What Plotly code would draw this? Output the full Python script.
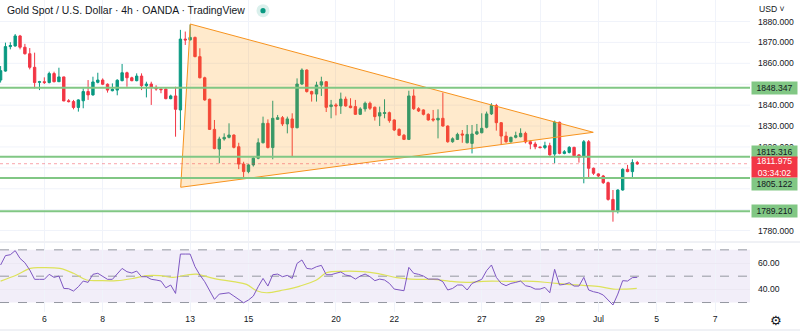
import plotly.graph_objects as go

# ---------------- data ----------------
opens = [1852.0, 1856.3, 1868.0, 1868.3, 1873.1, 1867.7, 1864.6, 1858.1, 1850.9, 1851.2,
         1850.8, 1855.1, 1851.2, 1853.5, 1842.1, 1841.7, 1838.9, 1842.1, 1846.5, 1844.9,
         1850.9, 1852.0, 1850.0, 1846.9, 1847.2, 1851.7, 1855.5, 1853.1, 1851.7, 1853.9,
         1849.3, 1850.1, 1848.5, 1847.7, 1847.7, 1843.1, 1844.4, 1837.7, 1871.6, 1871.2,
         1872.4, 1863.2, 1853.1, 1842.8, 1828.4, 1819.0, 1823.8, 1824.6, 1825.7, 1820.1,
         1811.8, 1808.2, 1811.4, 1814.6, 1822.0, 1831.3, 1819.7, 1833.2, 1834.0, 1831.0,
         1833.4, 1829.2, 1850.1, 1856.8, 1846.5, 1845.3, 1849.6, 1851.2, 1839.3, 1840.1,
         1839.6, 1842.9, 1839.6, 1839.3, 1835.6, 1838.2, 1840.9, 1839.0, 1834.8, 1836.0,
         1836.4, 1832.9, 1828.4, 1825.6, 1823.6, 1844.4, 1838.3, 1837.7, 1835.6, 1833.4,
         1832.9, 1833.7, 1830.0, 1822.5, 1823.6, 1826.2, 1822.0, 1821.7, 1826.2, 1826.8,
         1829.4, 1835.8, 1839.8, 1831.6, 1825.2, 1822.5, 1824.6, 1824.9, 1826.5, 1822.5,
         1821.4, 1820.0, 1819.7, 1820.6, 1816.6, 1831.8, 1816.9, 1817.4, 1819.8, 1816.2,
         1815.7, 1822.5, 1809.8, 1807.1, 1806.1, 1802.9, 1794.9, 1789.5, 1799.4, 1809.3,
         1808.2, 1812.5]
highs = [1858.7, 1869.9, 1870.1, 1874.0, 1873.6, 1869.3, 1867.3, 1865.1, 1851.6, 1853.3,
         1856.0, 1856.0, 1857.9, 1853.6, 1842.9, 1842.5, 1842.8, 1848.0, 1852.0, 1853.6,
         1855.5, 1852.8, 1850.4, 1850.4, 1852.4, 1859.7, 1856.0, 1853.6, 1855.2, 1855.2,
         1851.2, 1851.2, 1849.5, 1848.0, 1848.0, 1845.0, 1848.8, 1876.0, 1875.2, 1878.5,
         1872.8, 1867.2, 1853.6, 1843.1, 1832.9, 1824.9, 1826.5, 1831.3, 1826.0, 1822.0,
         1812.9, 1811.8, 1815.3, 1824.1, 1834.5, 1833.2, 1842.1, 1835.3, 1834.8, 1834.5,
         1836.1, 1852.8, 1857.6, 1857.1, 1846.9, 1851.2, 1853.6, 1851.5, 1842.5, 1840.9,
         1846.0, 1844.1, 1843.3, 1842.5, 1839.0, 1841.7, 1841.7, 1839.3, 1839.3, 1842.8,
         1836.9, 1833.2, 1828.9, 1826.2, 1846.9, 1847.6, 1839.0, 1838.0, 1836.1, 1837.7,
         1838.0, 1846.0, 1830.3, 1824.6, 1826.8, 1828.1, 1830.5, 1830.5, 1831.0, 1836.1,
         1836.9, 1840.9, 1840.6, 1831.9, 1827.3, 1824.9, 1827.3, 1828.9, 1827.3, 1823.3,
         1822.5, 1820.1, 1822.5, 1822.0, 1832.6, 1832.1, 1818.5, 1820.4, 1820.1, 1816.6,
         1823.3, 1823.3, 1810.1, 1807.4, 1806.6, 1803.4, 1799.4, 1799.7, 1809.8, 1811.4,
         1814.1, 1813.3]
lows = [1850.8, 1856.0, 1866.7, 1868.0, 1866.7, 1864.2, 1857.1, 1848.0, 1847.2, 1850.1,
        1850.4, 1850.9, 1851.1, 1841.9, 1841.3, 1838.0, 1836.9, 1838.5, 1842.5, 1844.5,
        1850.4, 1849.6, 1846.0, 1846.6, 1844.7, 1851.4, 1848.8, 1851.4, 1851.4, 1847.2,
        1843.7, 1840.1, 1846.9, 1845.7, 1842.8, 1842.8, 1824.9, 1828.1, 1868.8, 1871.0,
        1862.9, 1852.8, 1842.1, 1828.1, 1818.9, 1812.2, 1823.0, 1824.1, 1819.3, 1809.4,
        1805.0, 1807.4, 1810.6, 1814.1, 1821.7, 1819.3, 1814.1, 1832.9, 1830.0, 1826.5,
        1815.3, 1828.9, 1849.6, 1846.0, 1841.7, 1841.7, 1844.4, 1836.7, 1833.7, 1835.1,
        1835.8, 1839.3, 1838.5, 1835.3, 1835.3, 1836.9, 1837.7, 1832.6, 1830.0, 1833.7,
        1831.6, 1827.6, 1825.2, 1823.3, 1823.3, 1837.7, 1836.7, 1835.1, 1832.6, 1832.1,
        1824.1, 1829.7, 1822.0, 1822.0, 1823.3, 1822.0, 1821.7, 1816.9, 1825.7, 1826.5,
        1828.9, 1835.3, 1827.8, 1820.9, 1822.0, 1822.0, 1824.1, 1824.6, 1821.7, 1818.9,
        1818.9, 1819.3, 1818.9, 1815.8, 1812.2, 1816.5, 1816.5, 1816.9, 1815.3, 1812.5,
        1802.6, 1805.0, 1806.6, 1805.5, 1802.3, 1794.3, 1784.25, 1788.2, 1799.1, 1807.9,
        1805.5, 1811.4]
closes = [1856.5, 1868.0, 1868.5, 1873.1, 1867.7, 1864.6, 1858.1, 1850.8, 1851.2, 1850.8,
          1855.1, 1851.2, 1853.5, 1842.0, 1841.7, 1838.9, 1842.5, 1846.5, 1844.9, 1851.1,
          1852.0, 1850.0, 1847.2, 1847.6, 1851.9, 1855.5, 1853.1, 1851.7, 1853.9, 1849.3,
          1850.1, 1848.5, 1847.7, 1847.4, 1843.1, 1844.4, 1838.0, 1871.6, 1871.2, 1872.4,
          1863.2, 1853.1, 1842.5, 1828.4, 1819.2, 1823.8, 1824.6, 1825.7, 1819.8, 1811.8,
          1808.2, 1811.4, 1814.6, 1822.0, 1831.3, 1819.7, 1833.7, 1834.0, 1831.0, 1833.4,
          1829.2, 1850.1, 1856.8, 1846.5, 1845.3, 1849.6, 1851.2, 1838.95, 1840.1, 1839.6,
          1842.9, 1839.6, 1838.8, 1835.6, 1838.2, 1840.9, 1838.5, 1834.5, 1836.4, 1836.4,
          1832.6, 1828.1, 1825.6, 1823.6, 1844.4, 1838.3, 1837.2, 1835.6, 1832.9, 1832.9,
          1833.7, 1830.0, 1822.5, 1823.9, 1826.0, 1825.7, 1826.0, 1826.2, 1827.3, 1828.9,
          1835.8, 1839.8, 1831.6, 1825.2, 1822.5, 1824.6, 1825.4, 1826.5, 1822.4, 1821.4,
          1820.1, 1819.7, 1820.6, 1816.2, 1831.8, 1816.9, 1817.7, 1819.8, 1815.8, 1815.0,
          1822.5, 1809.8, 1807.4, 1806.1, 1802.9, 1794.9, 1789.5, 1799.4, 1809.3, 1808.2,
          1812.5, 1811.975]

rsi = [58.5, 65.6, 66.3, 69.4, 63.5, 60.2, 54.7, 47.6, 47.6, 47.6,
       51.4, 49.1, 50.1, 40.7, 40.5, 38.7, 42.0, 46.3, 45.3, 51.4,
       52.2, 50.1, 47.6, 47.6, 52.2, 55.9, 53.4, 52.4, 53.9, 49.6,
       49.6, 47.6, 47.1, 46.3, 41.2, 43.3, 36.9, 66.8, 66.8, 66.8,
       57.2, 50.9, 45.8, 39.5, 32.4, 36.4, 36.9, 37.4, 34.9, 32.4,
       29.8, 31.9, 34.9, 42.0, 48.3, 42.5, 51.1, 51.6, 49.6, 50.6,
       48.3, 59.7, 62.3, 55.9, 55.4, 57.2, 58.2, 51.1, 51.1, 52.2,
       53.2, 50.9, 50.1, 47.8, 50.1, 51.6, 49.6, 46.6, 47.8, 47.1,
       44.5, 40.2, 39.5, 38.96, 56.7, 52.2, 51.4, 50.1, 47.8, 47.6,
       47.8, 45.8, 39.5, 40.7, 43.3, 43.3, 39.5, 44.5, 45.8, 47.6,
       54.2, 58.5, 49.1, 44.5, 42.8, 44.5, 45.3, 46.3, 42.8, 42.0,
       40.2, 40.2, 41.5, 37.4, 55.2, 43.3, 43.8, 45.0, 42.5, 42.5,
       49.1, 39.5, 38.2, 37.4, 35.7, 31.9, 28.1, 36.4, 46.6, 46.3,
       48.9, 49.1]

ma_idx = [0, 3.3, 6.1, 8.1, 12.2, 15, 17.7, 20.5, 23.9, 27.3, 30.1, 32.8, 35.5, 38.3,
          40.3, 43.8, 47.9, 50.6, 52.7, 54.7, 58.2, 61.6, 65, 67.1, 70.5, 74.6, 77.4,
          81.5, 85.6, 89, 92.5, 95.9, 99.3, 104.8, 109.6, 113, 116.5, 119.9, 123.3,
          126.1, 128.8, 130.9]
ma_vals = [46.3, 50.9, 55.9, 56.5, 55.9, 52.2, 47.1, 46.6, 46.6, 48.3, 50.4, 50.4, 49.1,
           50.9, 51.6, 48.3, 45.8, 43.8, 38.96, 37.4, 39.5, 42.5, 47.1, 52.7, 53.7, 53.4,
           52.2, 48.9, 47.6, 47.6, 46.1, 45.3, 46.1, 46.1, 46.1, 45.0, 43.8, 43.0, 42.0,
           40.2, 40.2, 40.7]

tick_idx = [9, 21, 39, 51, 69, 81, 99, 111, 123, 135, 147]
tick_text = ['6', '8', '13', '15', '20', '22', '27', '29', 'Jul', '5', '7']
# price labels left visible beside the level boxes
price_ticks = [1780, 1820, 1830, 1840, 1860, 1870, 1880]
grid_prices = [1780, 1790, 1800, 1810, 1820, 1830, 1840, 1850, 1860, 1870, 1880]
rsi_ticks = [40, 60]
levels = [1848.347, 1815.316, 1805.122, 1789.210]
level_shift = [0, 5, -5.7, 0.7]
last_price = 1811.975
countdown = '03:34:02'
tri_x = [39.03, 37.06, 121.95]
tri_y = [1878.8, 1800.7, 1827.0]
title = 'Gold Spot / U.S. Dollar · 4h · OANDA · TradingView'

bars = list(range(len(opens)))

# ---------------- figure ----------------
W, H = 800, 332
R, B = 50, 20
PW = W - R
PH = H - B

def py(px):  # pixel y -> paper y
    return (PH - px) / PH

def pxx(px):  # pixel x -> paper x
    return px / PW

AXF = dict(family='Liberation Sans, Arial, sans-serif', size=8.6, color='#131722')

fig = go.Figure()
fig.add_trace(go.Candlestick(
    x=bars, open=opens, high=highs, low=lows, close=closes,
    increasing=dict(line=dict(color='#089981', width=1), fillcolor='#089981'),
    decreasing=dict(line=dict(color='#F23645', width=1), fillcolor='#F23645'),
    whiskerwidth=0, xaxis='x', yaxis='y', showlegend=False, hoverinfo='skip'))
fig.add_trace(go.Scatter(x=ma_idx, y=ma_vals, mode='lines', line=dict(color='#DDE25A', width=1.2, shape='spline'),
                         xaxis='x', yaxis='y2', showlegend=False, hoverinfo='skip'))
fig.add_trace(go.Scatter(x=bars, y=rsi, mode='lines', line=dict(color='#7E57C2', width=1),
                         xaxis='x', yaxis='y2', showlegend=False, hoverinfo='skip'))

shapes = []
# horizontal price grid (every 10)
for g in grid_prices:
    shapes.append(dict(type='line', xref='paper', x0=0, x1=1, yref='y', y0=g, y1=g,
                       line=dict(color='#F0F3FA', width=1), layer='below'))
# RSI band and guide lines
shapes.append(dict(type='rect', xref='paper', x0=0, x1=1, yref='y2', y0=30, y1=70,
                   fillcolor='rgba(126,87,194,0.1)', line=dict(width=0), layer='below'))
for v in (70, 50, 30):
    shapes.append(dict(type='line', xref='paper', x0=0, x1=1, yref='y2', y0=v, y1=v,
                       line=dict(color='#9598A1', width=1, dash='dash'), layer='below'))
# triangle
path = 'M {} {} L {} {} L {} {} Z'.format(tri_x[0], tri_y[0], tri_x[1], tri_y[1], tri_x[2], tri_y[2])
shapes.append(dict(type='path', xref='x', yref='y', path=path,
                   fillcolor='rgba(255,152,0,0.2)', line=dict(color='#F7931E', width=1), layer='above'))
# horizontal levels
for lv in levels:
    shapes.append(dict(type='line', xref='paper', x0=0, x1=1, yref='y', y0=lv, y1=lv,
                       line=dict(color='#81C784', width=2), layer='above'))
# current price line
shapes.append(dict(type='line', xref='paper', x0=0, x1=1, yref='y', y0=last_price, y1=last_price,
                   line=dict(color='rgba(242,54,69,0.45)', width=1, dash='dot'), layer='above'))
# pane separators
shapes.append(dict(type='line', xref='paper', x0=0, x1=W / PW, yref='paper', y0=py(242), y1=py(242),
                   line=dict(color='#E0E3EB', width=1)))
shapes.append(dict(type='line', xref='paper', x0=0, x1=W / PW, yref='paper', y0=py(330), y1=py(330),
                   line=dict(color='#E0E3EB', width=1)))
# status dot
shapes.append(dict(type='circle', xref='paper', xsizemode='pixel', xanchor=pxx(263), x0=-6.5, x1=6.5,
                   yref='paper', ysizemode='pixel', yanchor=py(10.7), y0=-6.5, y1=6.5,
                   fillcolor='rgba(8,153,129,0.15)', line=dict(width=0)))
shapes.append(dict(type='circle', xref='paper', xsizemode='pixel', xanchor=pxx(263), x0=-2.6, x1=2.6,
                   yref='paper', ysizemode='pixel', yanchor=py(10.7), y0=-2.6, y1=2.6,
                   fillcolor='#089981', line=dict(width=0)))

ann = []
ann.append(dict(xref='paper', yref='paper', x=pxx(5), y=py(10.5), xanchor='left', yanchor='middle',
                text=title, showarrow=False,
                font=dict(family='Liberation Sans, Arial, sans-serif', size=10.4, color='#131722')))
ann.append(dict(xref='paper', yref='paper', x=pxx(757), y=py(8.5), xanchor='left', yanchor='middle',
                text='USD ˅', showarrow=False, font=AXF))
ann.append(dict(xref='paper', yref='paper', x=pxx(776), y=py(321), xanchor='center', yanchor='middle',
                text='⚙', showarrow=False, font=dict(family='DejaVu Sans', size=13, color='#131722')))
for lv, sh in zip(levels, level_shift):
    ann.append(dict(xref='paper', yref='y', x=pxx(774.2), y=lv, yshift=sh, xanchor='center', yanchor='middle',
                    text='{:.3f}'.format(lv), showarrow=False, bgcolor='#81C784', width=43, height=10,
                    borderpad=1, font=AXF))
ann.append(dict(xref='paper', yref='y', x=pxx(774.2), y=last_price, yshift=-3, xanchor='center',
                yanchor='middle', text='{:.3f}<br>{}'.format(last_price, countdown), showarrow=False,
                bgcolor='#F23645', width=43, height=18, borderpad=1,
                font=dict(family='Liberation Sans, Arial, sans-serif', size=8.6, color='white')))

fig.update_layout(
    width=W, height=H, margin=dict(l=0, r=R, t=0, b=B),
    paper_bgcolor='white', plot_bgcolor='white',
    shapes=shapes, annotations=ann, showlegend=False,
    xaxis=dict(domain=[0, 1], anchor='y2', range=[-0.123, (PW - 0.6) / 4.86],
               tickvals=tick_idx, ticktext=tick_text, tickfont=AXF, showgrid=True,
               gridcolor='#F0F3FA', gridwidth=1, zeroline=False, showline=False, ticks='',
               rangeslider=dict(visible=False), fixedrange=True),
    yaxis=dict(domain=[py(241), 1], anchor='x', side='right', range=[1775.0, 1890.3],
               tickvals=price_ticks, tickformat='.3f', tickfont=AXF, showgrid=False,
               zeroline=False, showline=False, ticks='', ticklabelstandoff=7),
    yaxis2=dict(domain=[0, py(243)], anchor='x', side='right', range=[22.8, 75.2],
                tickvals=rsi_ticks, tickformat='.2f', tickfont=AXF, showgrid=True,
                gridcolor='#ECE8F3', zeroline=False, showline=False, ticks='', ticklabelstandoff=7),
)

fig.write_html('out.html')
